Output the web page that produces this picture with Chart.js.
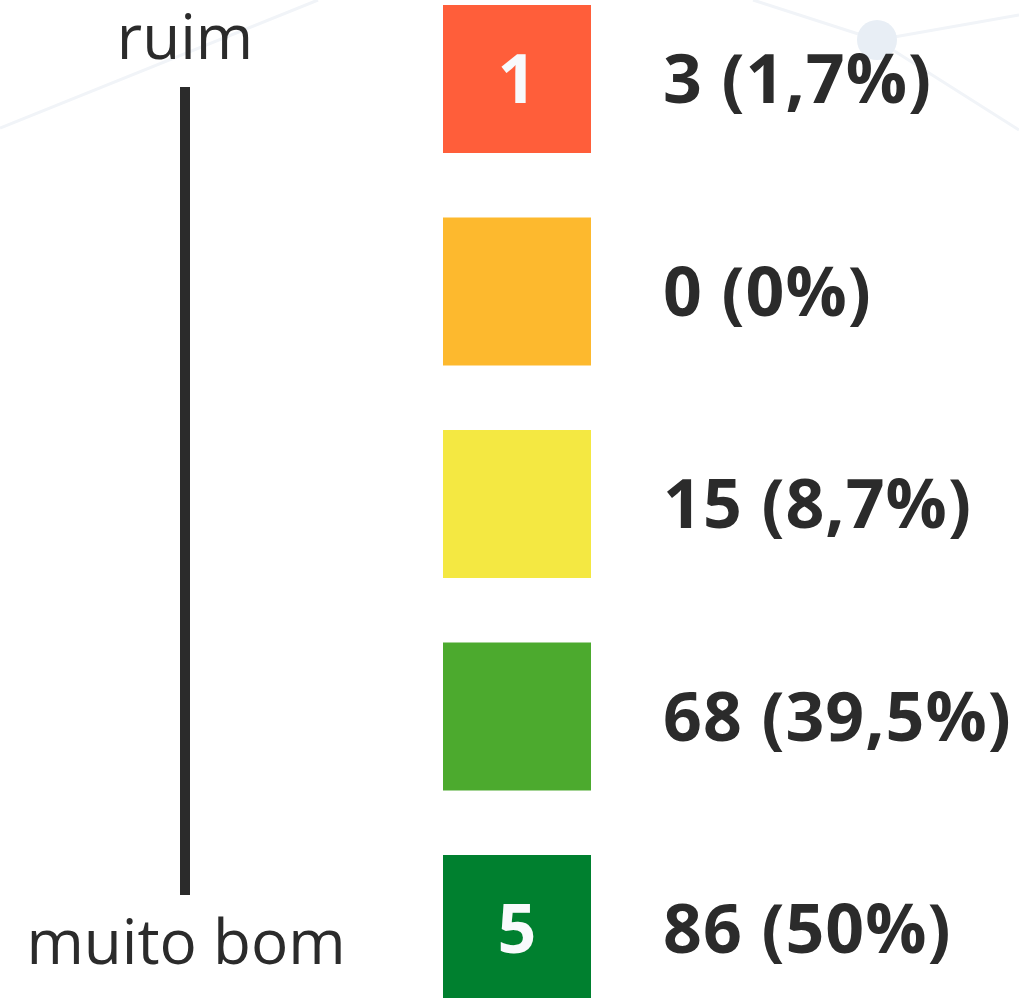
<!DOCTYPE html>
<html>
<head>
<meta charset="utf-8">
<script src="https://cdn.jsdelivr.net/npm/chart.js@4"></script>
<style>
  html, body { margin: 0; padding: 0; background: #ffffff; }
  #wrap { width: 1019px; height: 998px; position: relative; }
</style>
</head>
<body>
<div id="wrap"><canvas id="grafico_escala"></canvas></div>
<script>
// Níveis da escala e respostas
const niveis = [1, 2, 3, 4, 5];
const respostas = [3, 0, 15, 68, 86];
const percentuais = ["1,7%", "0%", "8,7%", "39,5%", "50%"];
const rotulosQuadrado = ["1", "", "", "", "5"];
const extremos = ["ruim", "muito bom"];
const cores = ["#ff5e3a", "#fdb92e", "#f4e842", "#4caa2e", "#00802f"];

const corTexto = "#2b2b2b";

// fundo decorativo (linhas e círculo claros)
const fundoPlugin = {
  id: "fundo",
  beforeDraw(chart) {
    const ctx = chart.ctx;
    ctx.save();
    ctx.strokeStyle = "#f1f4f8";
    ctx.lineWidth = 3;
    ctx.beginPath();
    ctx.moveTo(0, 128); ctx.lineTo(318, 0);
    ctx.moveTo(753, 0); ctx.lineTo(877, 40);
    ctx.moveTo(877, 40); ctx.lineTo(1019, 15);
    ctx.moveTo(877, 40); ctx.lineTo(1019, 130);
    ctx.stroke();
    ctx.fillStyle = "#e8eef5";
    ctx.beginPath();
    ctx.arc(877, 40, 20, 0, Math.PI * 2);
    ctx.fill();
    ctx.restore();
  }
};

const textosPlugin = {
  id: "textos",
  afterDatasetsDraw(chart) {
    const ctx = chart.ctx;
    const pts = chart.getDatasetMeta(0).data;
    const y = chart.scales.y;
    ctx.save();

    // rótulos dentro dos quadrados e contagens à direita
    ctx.font = "bold 68px 'Open Sans'";
    pts.forEach((p, i) => {
      const base = p.y + 24;
      if (rotulosQuadrado[i]) {
        ctx.letterSpacing = "0px";
        ctx.fillStyle = "#f8fafc";
        ctx.textAlign = "center";
        ctx.fillText(rotulosQuadrado[i], p.x, base);
      }
      ctx.letterSpacing = "1px";
      ctx.fillStyle = corTexto;
      ctx.textAlign = "left";
      ctx.fillText(respostas[i] + " (" + percentuais[i] + ")", p.x + 146, base);
    });
    ctx.letterSpacing = "0px";

    // régua vertical da escala
    const xLinha = pts[0].x - 332;
    const yTopo = y.getPixelForValue(niveis[0]);
    const yBase = y.getPixelForValue(niveis[niveis.length - 1]);
    ctx.fillStyle = corTexto;
    ctx.fillRect(xLinha - 5, yTopo + 8, 10, yBase - yTopo - 42);

    ctx.font = "62px 'Open Sans'";
    ctx.textAlign = "center";
    ctx.fillText(extremos[0], xLinha, yTopo - 20);
    ctx.fillText(extremos[1], xLinha + 1, yBase + 35);
    ctx.restore();
  }
};

const ctx = document.getElementById("grafico_escala").getContext("2d");

new Chart(ctx, {
  type: "scatter",
  data: {
    datasets: [
      {
        data: niveis.map((n) => ({ x: 0, y: n })),
        pointStyle: "rect",
        pointRadius: 148 / Math.SQRT2,
        pointBorderWidth: 0,
        pointBackgroundColor: cores,
        clip: false,
      },
    ],
  },
  options: {
    responsive: true,
    maintainAspectRatio: false,
    animation: false,
    events: [],
    layout: { autoPadding: false, padding: { left: 15, right: 0, top: 0, bottom: 0 } },
    plugins: {
      legend: { display: false },
      tooltip: { enabled: false },
    },
    scales: {
      x: { type: "linear", min: -1, max: 1, display: false },
      y: { type: "linear", min: 1 - 79 / 212.5, max: 1 - 79 / 212.5 + 998 / 212.5, reverse: true, display: false },
    },
  },
  plugins: [fundoPlugin, textosPlugin],
});
</script>
</body>
</html>
